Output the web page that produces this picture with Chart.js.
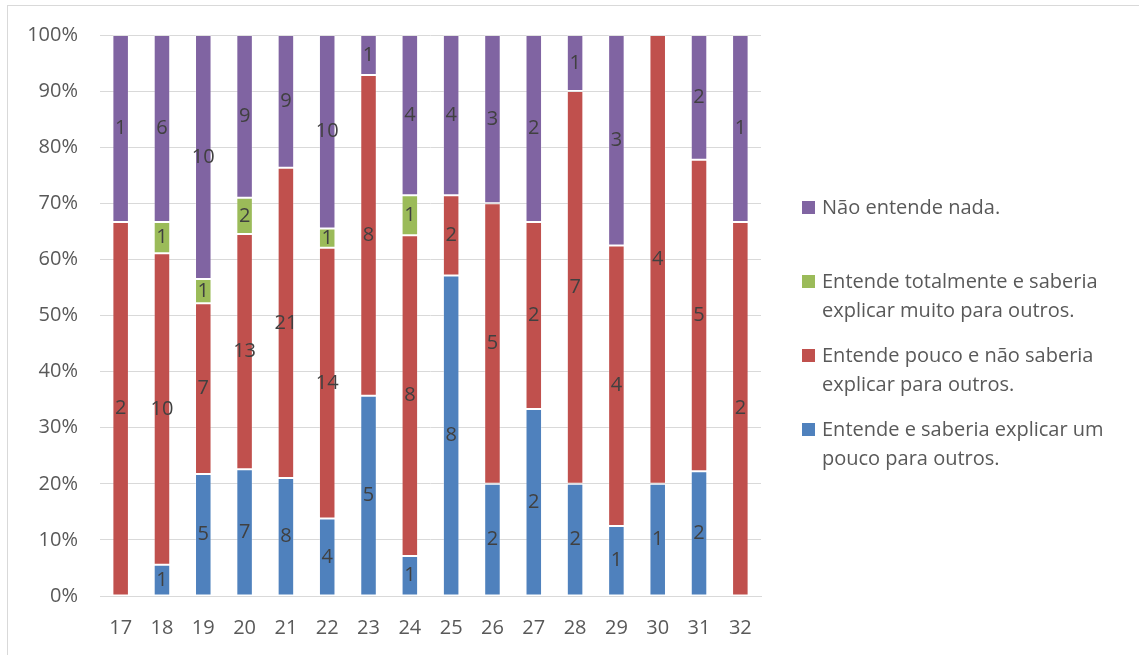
<!DOCTYPE html>
<html lang="pt">
<head>
<meta charset="utf-8">
<title>Compreensão por turma</title>
<script src="https://cdn.jsdelivr.net/npm/chart.js@4.4.1/dist/chart.umd.min.js"></script>
<style>
  html, body { margin: 0; padding: 0; background: #ffffff; }
  #wrap { position: relative; width: 1139px; height: 655px; overflow: hidden; }
  #frame { position: absolute; left: 7px; top: 5px; width: 1300px; height: 800px;
           border: 1px solid #d9d9d9; box-sizing: border-box; }
  #chart { position: absolute; left: 0; top: 0; }
</style>
</head>
<body>
<div id="wrap">
  <div id="frame"></div>
  <canvas id="chart" width="1139" height="655"></canvas>
</div>
<script>
// Categories (question / item numbers)
const categories = ['17','18','19','20','21','22','23','24','25','26','27','28','29','30','31','32'];

// Answer counts per item, one array per answer option
const entendeUmPouco   = [0, 1, 5, 7, 8, 4, 5, 1, 8, 2, 2, 2, 1, 1, 2, 0];
const entendePouco     = [2, 10, 7, 13, 21, 14, 8, 8, 2, 5, 2, 7, 4, 4, 5, 2];
const entendeTotalmente= [0, 1, 1, 2, 0, 1, 0, 1, 0, 0, 0, 0, 0, 0, 0, 0];
const naoEntende       = [1, 6, 10, 9, 9, 10, 1, 4, 4, 3, 2, 1, 3, 0, 2, 1];

const seriesLabels = [
  'Entende e saberia explicar um pouco para outros.',
  'Entende pouco e não saberia explicar para outros.',
  'Entende totalmente e saberia explicar muito para outros.',
  'Não entende nada.'
];
const seriesColors = ['#4F81BD', '#C0504D', '#9BBB59', '#8064A2'];

const yTicks = [0, 10, 20, 30, 40, 50, 60, 70, 80, 90, 100];

// Totals per item, used to turn counts into shares of 100%
const counts = [entendeUmPouco, entendePouco, entendeTotalmente, naoEntende];
const totals = categories.map((_, i) => counts.reduce((s, arr) => s + arr[i], 0));

const datasets = counts.map((arr, k) => ({
  label: seriesLabels[k],
  data: arr.map((v, i) => totals[i] ? v / totals[i] * 100 : 0),
  counts: arr,
  backgroundColor: seriesColors[k],
  borderColor: 'rgba(255,255,255,0.25)',
  borderWidth: 1,
  borderSkipped: false,
  barPercentage: 0.4,
  categoryPercentage: 1.0
}));

const FONT = "'Open Sans', 'Liberation Sans', sans-serif";
const FSIZE = 20;

// Count labels centred in each segment
const segmentLabels = {
  id: 'segmentLabels',
  afterDatasetsDraw(chart) {
    const ctx = chart.ctx;
    ctx.save();
    ctx.font = FSIZE + 'px ' + FONT;
    ctx.fillStyle = '#404040';
    ctx.textAlign = 'center';
    ctx.textBaseline = 'middle';
    chart.data.datasets.forEach((ds, di) => {
      const meta = chart.getDatasetMeta(di);
      meta.data.forEach((bar, i) => {
        const n = ds.counts[i];
        if (!n) return;
        ctx.fillText(String(n), bar.x, (bar.y + bar.base) / 2);
      });
    });
    ctx.restore();
  }
};

// Legend on the right, entries listed top-down in reverse stacking order, text wrapped
const sideLegend = {
  id: 'sideLegend',
  afterDraw(chart) {
    const ctx = chart.ctx;
    const x0 = 802, textX = 822, maxW = 305;
    const firstBase = 214, itemStep = 74, lineH = 28.5, box = 13;
    ctx.save();
    ctx.font = FSIZE + 'px ' + FONT;
    ctx.textBaseline = 'alphabetic';
    ctx.textAlign = 'left';
    const order = chart.data.datasets.map((d, i) => i).reverse();
    order.forEach((di, row) => {
      const ds = chart.data.datasets[di];
      const words = ds.label.split(' ');
      const lines = [];
      let cur = '';
      words.forEach(w => {
        const test = cur ? cur + ' ' + w : w;
        if (ctx.measureText(test).width > maxW && cur) { lines.push(cur); cur = w; }
        else cur = test;
      });
      if (cur) lines.push(cur);
      const base = firstBase + row * itemStep;
      ctx.fillStyle = ds.backgroundColor;
      ctx.fillRect(x0, base - box, box, box);
      ctx.fillStyle = '#595959';
      lines.forEach((ln, j) => ctx.fillText(ln, textX, base + j * lineH));
    });
    ctx.restore();
  }
};

Chart.defaults.font.family = FONT;
Chart.defaults.font.size = FSIZE;
Chart.defaults.color = '#595959';

new Chart(document.getElementById('chart'), {
  type: 'bar',
  data: { labels: categories, datasets },
  options: {
    responsive: false,
    animation: false,
    layout: { padding: { left: 0, top: 35, right: 378, bottom: 0 } },
    plugins: {
      legend: { display: false },
      tooltip: { enabled: false }
    },
    scales: {
      x: {
        stacked: true,
        grid: { display: false, drawTicks: false },
        border: { color: '#d9d9d9', width: 1 },
        ticks: { padding: 20, color: '#595959', maxRotation: 0 },
        afterFit: s => { s.height = 59; }
      },
      y: {
        stacked: true,
        min: 0,
        max: 100,
        afterBuildTicks: s => { s.ticks = yTicks.map(v => ({ value: v })); },
        grid: { color: '#d9d9d9', lineWidth: 1, drawTicks: false },
        border: { display: false },
        ticks: { padding: 22, color: '#595959', callback: v => v + '%' },
        afterFit: s => { s.width = 100; }
      }
    }
  },
  plugins: [segmentLabels, sideLegend]
});
</script>
</body>
</html>
